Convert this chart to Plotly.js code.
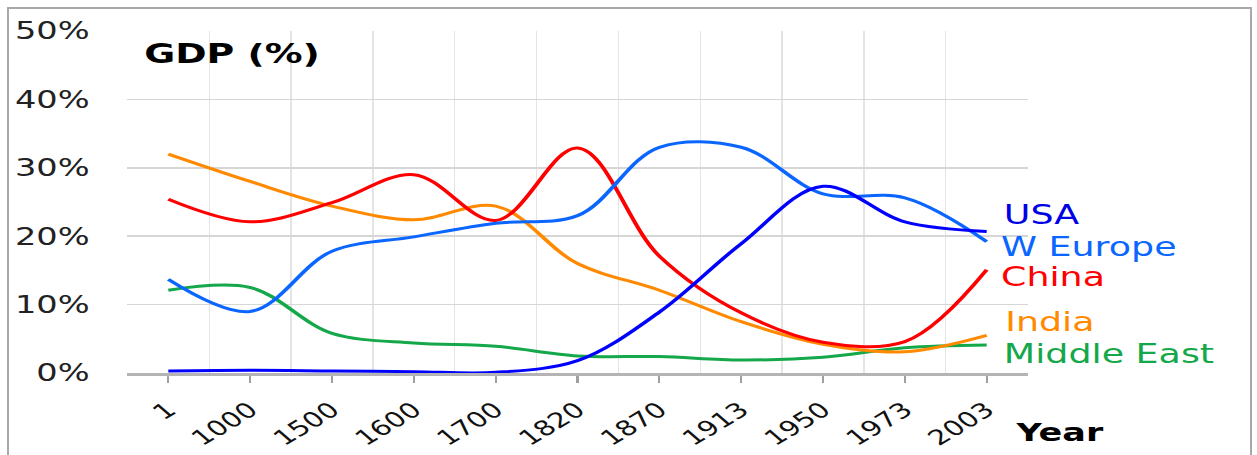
<!DOCTYPE html>
<html>
<head>
<meta charset="utf-8">
<script src="https://cdn.plot.ly/plotly-3.0.1.min.js"></script>
<style>
  html, body { margin: 0; padding: 0; background: #fff; overflow: hidden; }
  #frame { position: absolute; left: 7px; top: 7px; width: 1245px; height: 470px;
           border: 2px solid #a8a8a8; box-sizing: border-box; }
  #chart { position: absolute; left: 0; top: 0; width: 898px; height: 455px;
           transform: scaleX(1.4); transform-origin: 0 0; }
</style>
</head>
<body>
<div id="frame"></div>
<div id="chart"></div>
<script>
// Categories (years)
const categories = ['1', '1000', '1500', '1600', '1700', '1820', '1870', '1913', '1950', '1973', '2003'];

// Share of world GDP (%)
const usa        = [0.3, 0.4, 0.3, 0.2, 0.1, 1.8, 8.9, 18.9, 27.3, 22.1, 20.7];
const wEurope    = [13.7, 9.0, 17.8, 19.9, 21.9, 23.0, 33.0, 33.0, 26.2, 25.6, 19.2];
const china      = [25.4, 22.1, 24.9, 29.0, 22.3, 32.9, 17.1, 8.8, 4.5, 4.6, 15.1];
const india      = [32.0, 28.0, 24.4, 22.4, 24.4, 16.0, 12.1, 7.5, 4.2, 3.1, 5.5];
const middleEast = [12.1, 12.5, 5.8, 4.4, 3.9, 2.5, 2.4, 1.9, 2.3, 3.7, 4.1];

const seriesNames = ['USA', 'W Europe', 'China', 'India', 'Middle East'];
const yTickVals = [0, 10, 20, 30, 40, 50];

const colors = {
  'USA': '#0000ff',
  'W Europe': '#0a66ff',
  'China': '#ff0000',
  'India': '#ff8a00',
  'Middle East': '#14a84a'
};

const idx = categories.map((c, i) => i);
const seriesData = {
  'USA': usa, 'W Europe': wEurope, 'China': china, 'India': india, 'Middle East': middleEast
};
const order = ['Middle East', 'India', 'China', 'W Europe', 'USA'];

const traces = order.map(name => ({
  type: 'scatter',
  mode: 'lines',
  name: name,
  x: idx,
  y: seriesData[name],
  line: { color: colors[name], width: 3, shape: 'spline', smoothing: 1 },
  hoverinfo: 'x+y+name'
}));

// right-hand labels: position in paper units
const labelY = { 'USA': 0.463, 'W Europe': 0.367, 'China': 0.28, 'India': 0.148, 'Middle East': 0.057 };
const labelX = { 'USA': 0.971, 'W Europe': 0.967, 'China': 0.967, 'India': 0.972, 'Middle East': 0.971 };

const annotations = seriesNames.map(name => ({
  xref: 'paper', yref: 'paper', x: labelX[name], y: labelY[name],
  xanchor: 'left', yanchor: 'middle', showarrow: false,
  text: name,
  font: { family: 'DejaVu Sans', size: 26, color: name === 'USA' ? '#0000e6' : colors[name] }
}));

annotations.push({
  xref: 'paper', yref: 'paper', x: 0.015, y: 0.935, xanchor: 'left', yanchor: 'middle',
  showarrow: false, text: '<b>GDP (%)</b>',
  font: { family: 'DejaVu Sans', size: 27, color: '#000' }
});
annotations.push({
  xref: 'paper', yref: 'paper', x: 1.035, y: -0.175, xanchor: 'center', yanchor: 'middle',
  showarrow: false, text: '<b>Year</b>',
  font: { family: 'DejaVu Sans', size: 25, color: '#000' }
});

const layout = {
  width: 898, height: 455,
  margin: { l: 91.4, r: 163.7, t: 31, b: 82 },
  paper_bgcolor: 'rgba(0,0,0,0)',
  plot_bgcolor: '#ffffff',
  showlegend: false,
  xaxis: {
    type: 'linear',
    range: [-0.5, 10.5],
    tickmode: 'array',
    tickvals: idx,
    ticktext: categories,
    tickangle: -40,
    ticks: 'outside', ticklen: 7, tickwidth: 1.5, tickcolor: '#a0a0a0',
    ticklabelstandoff: 7,
    tickfont: { family: 'DejaVu Sans', size: 21, color: '#111' },
    showgrid: false,
    showline: true, linecolor: '#b4b4b4', linewidth: 2.5,
    zeroline: false,
    minor: { tickmode: 'linear', tick0: -0.5, dtick: 1, showgrid: true,
             gridcolor: '#e4e4e4', gridwidth: 1, ticks: '' },
    fixedrange: true
  },
  yaxis: {
    range: [0, 50],
    tickmode: 'array',
    tickvals: yTickVals,
    ticktext: yTickVals.map(v => v + '%'),
    ticks: '',
    ticklabelstandoff: 26,
    tickfont: { family: 'DejaVu Sans', size: 24, color: '#222' },
    showgrid: true, gridcolor: '#d6d6d6', gridwidth: 1.5,
    zeroline: false, showline: false,
    fixedrange: true
  },
  annotations: annotations
};

Plotly.newPlot('chart', traces, layout, { displayModeBar: false, staticPlot: true });
</script>
</body>
</html>
